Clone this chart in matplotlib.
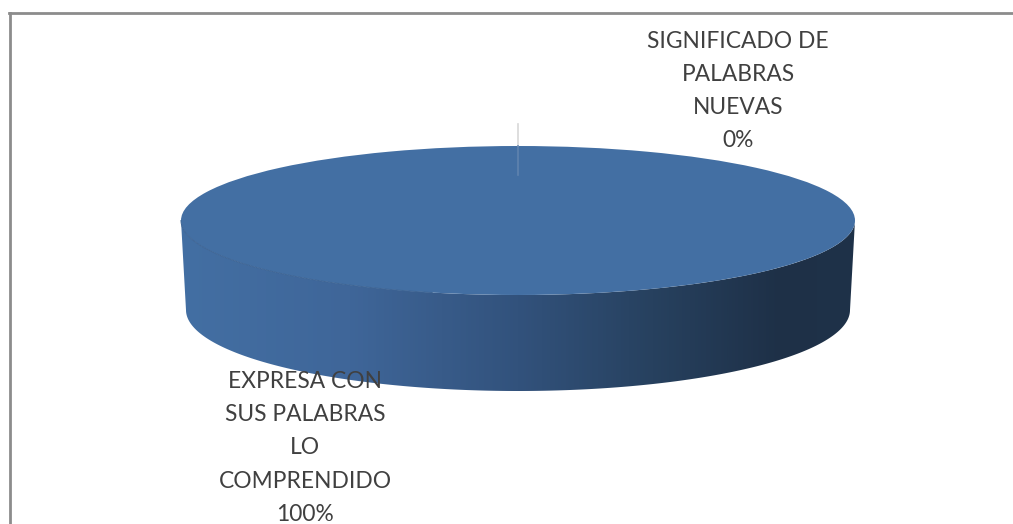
import numpy as np
import matplotlib
matplotlib.use('Agg')
import matplotlib.pyplot as plt
from matplotlib.colors import LinearSegmentedColormap
from matplotlib.patches import Polygon

categories = ['SIGNIFICADO DE\nPALABRAS\nNUEVAS', 'EXPRESA CON\nSUS PALABRAS\nLO\nCOMPRENDIDO']
values = [0, 100]

W, H = 1013, 524
cx, cy, a, b = 518, 220.5, 337, 74.5  # top ellipse in pixels
plt.rcParams['font.family'] = ['Lato', 'DejaVu Sans']

fig = plt.figure(figsize=(W / 100, H / 100), dpi=100)
ax = fig.add_axes([0, 0, 1, 1])

wedges, _ = ax.pie(values, colors=['#c0504d', '#436fa3'], startangle=90, counterclock=False,
                   radius=1, center=(0, 0), wedgeprops={'linewidth': 0})
for w in wedges:
    w.set_zorder(3)

# side wall of the disc, bottom ellipse slightly narrower
t = np.linspace(0, np.pi, 300)
xt = np.cos(t)
yt = -np.sin(t)
bot_r = 332 / a
bot_dy = (310 - cy) / b
bot_b = 81 / b
xb = bot_r * np.cos(t)
yb = -bot_dy - bot_b * np.sin(t)
wall = Polygon(np.r_[np.c_[xt, yt], np.c_[xb, yb][::-1]], closed=True, transform=ax.transData,
               facecolor='none', edgecolor='none')
ax.add_patch(wall)

stops = [(0.0, '#436fa3'), (0.25, '#3f6699'), (0.5, '#32527c'), (0.7, '#27415f'), (0.89, '#1e3047'), (1.0, '#1f3249')]
cmap = LinearSegmentedColormap.from_list('wall', stops)
grad = np.linspace(0, 1, 512).reshape(1, -1)
im = ax.imshow(grad, cmap=cmap, extent=(-1, 1, -3, 0), aspect='auto', zorder=2)
im.set_clip_path(wall)

ax.plot(xt[xt < -0.25], yt[xt < -0.25], color='#3d6494', lw=0.7, zorder=4)

# leader line of the 0% slice, faint where it crosses the pie
ax.plot([0, 0], [(cy - 124) / b, (cy - 146) / b], color='#d8d8d8', lw=1.2, zorder=5)
ax.plot([0, 0], [(cy - 146) / b, (cy - 175) / b], color='#5f83ae', lw=1.2, zorder=5)

ax.set_xlim((0 - cx) / a, (W - cx) / a)
ax.set_ylim((cy - H) / b, cy / b)
ax.set_aspect('auto')
ax.axis('off')

txt = '#404040'
fig.text(738 / W, 1 - 91 / H, f'{categories[0]}\n{values[0]}%', ha='center', va='center',
         fontsize=16.4, color=txt, linespacing=1.72, zorder=6)
fig.text(305 / W, 1 - 448 / H, f'{categories[1]}\n{values[1]}%', ha='center', va='center',
         fontsize=16.4, color=txt, linespacing=1.71, zorder=6)

# chart frame
fig.add_artist(plt.Line2D([9.5 / W, 9.5 / W], [0, 1 - 12.5 / H], color='#8c8c8c', lw=2))
fig.add_artist(plt.Line2D([9 / W, 1], [1 - 12.5 / H, 1 - 12.5 / H], color='#8c8c8c', lw=2))

fig.savefig('out.png', dpi=100)
